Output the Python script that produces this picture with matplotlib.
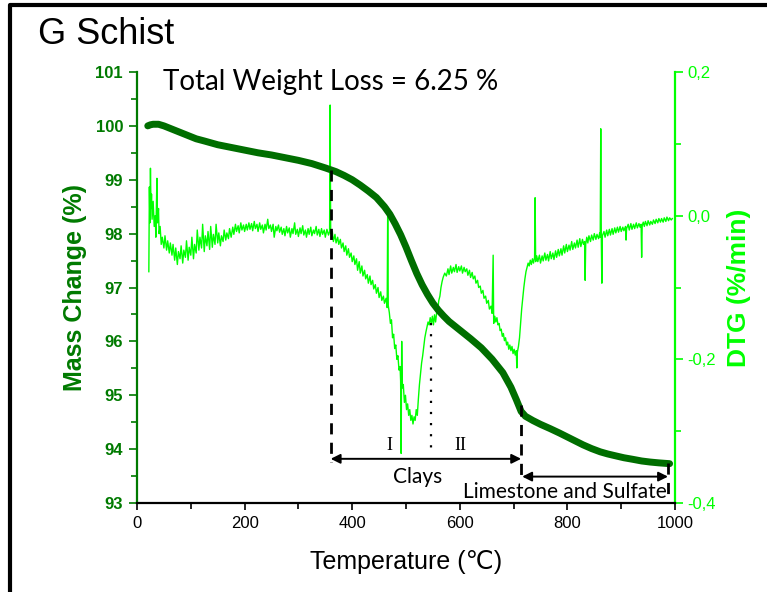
import matplotlib
matplotlib.use("Agg")
import matplotlib.pyplot as plt
from matplotlib.lines import Line2D
from matplotlib.ticker import MultipleLocator, FixedLocator, FuncFormatter

# ---------------- data ----------------
mass_temp = [20, 25, 30, 40, 50, 60, 75, 85, 100, 110, 125, 150, 175, 200, 225, 250, 275, 300,
             325, 350, 370, 385, 400, 415, 430, 445, 460, 470, 480, 490, 500, 510,
             520, 530, 540, 550, 560, 570, 580, 600, 620, 640, 660, 680, 695, 705,
             714, 722, 736, 750, 768, 785, 799, 815, 829, 845, 861, 875, 892, 905,
             922, 938, 954, 970, 990]
mass_val = [100.00, 100.02, 100.03, 100.03, 100.00, 99.96, 99.90, 99.86, 99.80, 99.76,
            99.72, 99.65, 99.60, 99.55, 99.50, 99.46, 99.41, 99.36, 99.30, 99.22,
            99.15, 99.08, 99.00, 98.90, 98.79, 98.67, 98.50, 98.36, 98.18, 97.98,
            97.75, 97.50, 97.26, 97.05, 96.87, 96.71, 96.58, 96.47, 96.37, 96.21,
            96.05, 95.88, 95.67, 95.42, 95.15, 94.92, 94.70, 94.61, 94.53, 94.46,
            94.38, 94.30, 94.23, 94.15, 94.08, 94.01, 93.95, 93.91, 93.87, 93.84,
            93.81, 93.78, 93.76, 93.745, 93.73]

dtg_temp = [22, 23, 24, 25, 26, 27, 28, 30, 32, 34, 35, 37, 38, 40, 41, 43, 45,
            47, 50, 52, 55, 57, 60, 62, 65, 67, 70, 72, 75, 77, 80, 82, 85, 87, 90, 92, 95, 97, 100, 102, 105, 107, 110,
            112, 115, 117, 120, 122, 125, 127, 130, 132, 135, 137, 140, 142, 145, 147, 150, 152, 155, 157, 160, 162, 165, 167, 170, 172, 175,
            178, 180, 183, 185, 188, 190, 193, 195, 198, 200, 203, 205, 208, 210, 213, 215, 218, 220, 223, 225, 228, 230, 233, 235, 238, 240, 243, 245, 248, 250, 253, 255, 258, 260, 263, 265,
            268, 270, 273, 275, 278, 280, 283, 285, 288, 290, 293, 295, 298, 300, 303, 305, 308, 310, 313, 315, 318, 320, 323, 325, 328, 330, 333, 335, 338, 340, 343, 345, 348, 350, 353, 356,
            358, 359, 360,
            363, 365, 368, 370, 373, 375, 378, 380, 383, 385, 388, 390, 393, 395, 398, 400, 403, 405, 408, 410, 413, 415, 418, 420, 423, 425, 428, 430, 433, 435, 438, 440, 443, 445, 448, 450, 453, 455,
            458, 460, 463, 465, 466, 467, 469,
            471, 473, 475, 477, 479, 481, 483, 485, 487, 489, 490, 491, 492, 493, 495, 497, 499, 501, 503, 505, 507, 509, 511, 513, 515, 517, 519, 521, 523, 525, 527, 529, 531, 533, 535, 537, 539, 541, 543, 545, 547, 549, 551, 553, 555, 557, 559, 561, 563, 565, 567, 569, 572, 575,
            578, 580, 583, 585, 588, 590, 593, 595, 598, 600, 603, 605, 608, 610, 613, 615, 618, 620, 623, 625, 628, 630, 633, 635, 638, 640, 643, 645, 648, 650, 653, 655, 658, 660, 662, 663, 665, 667, 669, 671, 673, 675, 677, 679, 681, 683, 685, 687, 689, 691, 693, 695, 697, 699, 701, 703, 705, 706, 707, 709, 711, 713, 715, 717, 719, 721, 723, 725, 727, 729, 731, 733, 735, 737, 739, 740, 741, 743,
            745, 748, 750, 753, 755, 758, 760, 763, 765, 768, 770, 773, 775, 778, 780, 783, 785, 788, 790, 793, 795, 798, 800, 803, 805, 808, 810, 813, 815, 818, 820, 823, 825, 828, 830, 832, 833, 834, 836, 838, 840, 843, 845, 848, 850, 853, 855, 858, 860, 861, 862, 863, 864, 865, 868, 870, 873, 875, 878, 880, 883, 885, 888, 890, 893, 895, 898, 900, 903, 905, 908, 909, 910, 913, 915, 918, 920, 923, 925, 928, 930, 933, 935, 937, 938, 939, 941, 943, 945, 948, 950, 953, 955, 958, 960, 963, 965, 968, 970, 973, 975, 978, 980, 983, 985, 988, 990, 993, 995]
dtg_val = [-0.078, 0.040, -0.010, 0.066, 0.010, 0.030, -0.005, 0.020, -0.015, 0.000, -0.030, 0.052, -0.010, 0.010, -0.025, -0.015, -0.040,
           -0.030, -0.045, -0.028, -0.048, -0.035, -0.052, -0.038, -0.055, -0.040, -0.062, -0.045, -0.068, -0.050, -0.060, -0.042, -0.066, -0.048, -0.058, -0.035, -0.062, -0.044, -0.055, -0.030, -0.060, -0.040, -0.052,
           -0.020, -0.048, -0.030, -0.045, -0.012, -0.050, -0.028, -0.042, -0.022, -0.047, -0.015, -0.044, -0.026, -0.040, -0.012, -0.038, -0.024, -0.042, -0.028, -0.036, -0.020, -0.034, -0.024, -0.032, -0.018, -0.030,
           -0.016, -0.026, -0.012, -0.022, -0.014, -0.024, -0.010, -0.020, -0.013, -0.022, -0.012, -0.020, -0.010, -0.019, -0.011, -0.021, -0.008, -0.018, -0.012, -0.022, -0.010, -0.019, -0.013, -0.024, -0.012, -0.020, -0.005, -0.018, -0.013, -0.022, -0.012, -0.030, -0.015, -0.021, -0.013, -0.023,
           -0.016, -0.026, -0.018, -0.028, -0.015, -0.024, -0.017, -0.030, -0.018, -0.025, -0.010, -0.026, -0.019, -0.029, -0.017, -0.025, -0.014, -0.027, -0.020, -0.030, -0.018, -0.026, -0.016, -0.028, -0.020, -0.025, -0.015, -0.027, -0.019, -0.029, -0.018, -0.026, -0.020, -0.030, -0.019, -0.027,
           -0.022, 0.154, -0.025,
           -0.022, -0.036, -0.026, -0.038, -0.030, -0.040, -0.033, -0.045, -0.038, -0.050, -0.042, -0.055, -0.046, -0.058, -0.052, -0.064, -0.056, -0.068, -0.060, -0.076, -0.064, -0.080, -0.070, -0.084, -0.076, -0.088, -0.082, -0.094, -0.084, -0.096, -0.090, -0.102, -0.096, -0.108, -0.100, -0.114, -0.106, -0.118,
           -0.112, -0.122, -0.115, -0.128, 0.012, -0.125, -0.135,
           -0.150, -0.145, -0.170, -0.165, -0.185, -0.180, -0.200, -0.195, -0.215, -0.210, -0.230, -0.331, -0.175, -0.240, -0.235, -0.260, -0.250, -0.270, -0.262, -0.278, -0.270, -0.285, -0.278, -0.290, -0.280, -0.285, -0.270, -0.278, -0.255, -0.235, -0.220, -0.205, -0.195, -0.182, -0.170, -0.162, -0.155, -0.148, -0.152, -0.142, -0.150, -0.140, -0.152, -0.138, -0.148, -0.135, -0.130, -0.118, -0.112, -0.100, -0.092, -0.086, -0.080, -0.084,
           -0.074, -0.082, -0.070, -0.080, -0.072, -0.078, -0.068, -0.079, -0.071, -0.077, -0.070, -0.080, -0.072, -0.078, -0.074, -0.083, -0.076, -0.086, -0.079, -0.088, -0.084, -0.094, -0.090, -0.100, -0.098, -0.108, -0.104, -0.115, -0.112, -0.122, -0.118, -0.130, -0.126, -0.136, -0.055, -0.150, -0.140, -0.148, -0.142, -0.152, -0.150, -0.160, -0.158, -0.168, -0.164, -0.174, -0.170, -0.180, -0.176, -0.186, -0.180, -0.188, -0.182, -0.192, -0.186, -0.194, -0.188, -0.212, -0.190, -0.182, -0.170, -0.150, -0.130, -0.115, -0.100, -0.088, -0.078, -0.072, -0.066, -0.070, -0.062, -0.068, -0.060, -0.066, -0.058, 0.025, -0.064, -0.056,
           -0.064, -0.055, -0.066, -0.056, -0.063, -0.052, -0.062, -0.054, -0.063, -0.050, -0.060, -0.052, -0.061, -0.049, -0.058, -0.047, -0.056, -0.046, -0.055, -0.042, -0.052, -0.040, -0.050, -0.041, -0.048, -0.036, -0.047, -0.038, -0.045, -0.034, -0.044, -0.032, -0.043, -0.033, -0.040, -0.036, -0.090, -0.040, -0.030, -0.038, -0.028, -0.036, -0.027, -0.034, -0.025, -0.033, -0.026, -0.032, -0.024, -0.030, 0.121, -0.030, -0.094, -0.028, -0.022, -0.030, -0.020, -0.028, -0.019, -0.027, -0.018, -0.026, -0.017, -0.024, -0.016, -0.023, -0.015, -0.022, -0.016, -0.021, -0.015, -0.034, -0.018, -0.012, -0.020, -0.011, -0.019, -0.012, -0.018, -0.010, -0.017, -0.011, -0.016, -0.012, -0.058, -0.014, -0.009, -0.015, -0.008, -0.014, -0.007, -0.013, -0.008, -0.012, -0.006, -0.011, -0.005, -0.010, -0.004, -0.009, -0.004, -0.009, -0.003, -0.008, -0.002, -0.007, -0.003, -0.006, -0.004]

x_ticks = [0, 200, 400, 600, 800, 1000]
mass_ticks = [93, 94, 95, 96, 97, 98, 99, 100, 101]
dtg_ticks = [-0.4, -0.2, 0.0, 0.2]

title_text = "G Schist"
loss_text = "Total Weight Loss = 6.25 %"
clay_start, stage_split, clay_end, lime_end = 360, 547, 714, 987

# ---------------- style ----------------
DARK = "#007A00"
CURVE = "#006E00"
LIME = "#00FF00"
SANS = ["Liberation Sans", "DejaVu Sans"]
CAL = ["Lato", "DejaVu Sans"]

fig = plt.figure(figsize=(7.67, 5.92), dpi=100)
ax = fig.add_axes([137/767, 1-503/592, (675-137)/767, (503-72)/592])
ax2 = ax.twinx()
ax.set_zorder(ax2.get_zorder() + 1)
ax.patch.set_visible(False)

# DTG
ax2.plot(dtg_temp, dtg_val, color=LIME, lw=1.0)
ax2.set_ylim(-0.4, 0.2)
ax2.yaxis.set_major_locator(FixedLocator(dtg_ticks))
ax2.yaxis.set_minor_locator(MultipleLocator(0.1))
ax2.yaxis.set_major_formatter(FuncFormatter(lambda v, p: f"{v:.1f}".replace(".", ",").replace("-0,0", "0,0")))
ax2.tick_params(axis='y', which='major', colors=LIME, length=6, width=1.2, labelsize=12, pad=3)
ax2.tick_params(axis='y', which='minor', colors=LIME, length=4, width=1.2)
for lab in ax2.get_yticklabels():
    lab.set_family(SANS)
ax2.spines['right'].set_color(LIME)
ax2.spines['right'].set_linewidth(1.6)
for s in ['top', 'left', 'bottom']:
    ax2.spines[s].set_visible(False)
ax2.set_ylabel("DTG (%/min)", color=LIME, fontsize=19, fontweight='bold', family=SANS, labelpad=8)

# Mass
ax.plot(mass_temp, mass_val, color=CURVE, lw=5, solid_capstyle='round', solid_joinstyle='round')
ax.set_xlim(0, 1000)
ax.set_ylim(93, 101)
ax.xaxis.set_major_locator(FixedLocator(x_ticks))
ax.xaxis.set_minor_locator(MultipleLocator(100))
ax.yaxis.set_major_locator(FixedLocator(mass_ticks))
ax.yaxis.set_minor_locator(MultipleLocator(0.5))
ax.tick_params(axis='y', which='major', colors=DARK, length=6, width=1.2, labelsize=12, pad=4)
ax.tick_params(axis='y', which='minor', colors=DARK, length=4, width=1.2)
ax.tick_params(axis='x', which='major', colors='black', length=5, width=1.2, labelsize=12, pad=4)
ax.tick_params(axis='x', which='minor', colors='black', length=4, width=1.2)
for lab in ax.get_yticklabels():
    lab.set_family(SANS)
    lab.set_fontweight('bold')
for lab in ax.get_xticklabels():
    lab.set_family(SANS)
ax.spines['left'].set_color(DARK)
ax.spines['left'].set_linewidth(1.6)
ax.spines['bottom'].set_color('black')
ax.spines['bottom'].set_linewidth(1.6)
for s in ['top', 'right']:
    ax.spines[s].set_visible(False)
ax.set_xlabel("Temperature (\u2103)", fontsize=18, family=SANS, labelpad=14)
ax.set_ylabel("Mass Change (%)", color=DARK, fontsize=18, fontweight='bold', family=SANS, labelpad=6)

# annotations
ax.plot([clay_start, clay_start], [99.18, 93.76], color='black', lw=2, ls=(0, (4, 3)))
ax.plot([stage_split, stage_split], [96.35, 94.02], color='black', lw=1.6, ls=(0, (1, 4)))
ax.plot([clay_end, clay_end], [94.82, 93.49], color='black', lw=2, ls=(0, (4, 3)))
ax.plot([lime_end, lime_end], [93.75, 93.06], color='black', lw=2, ls=(0, (4, 3)))
arrow_kw = dict(arrowstyle='<|-|>', color='black', lw=1.4, mutation_scale=14, shrinkA=0, shrinkB=0)
ax.annotate("", xy=(clay_start, 93.82), xytext=(clay_end, 93.82), arrowprops=arrow_kw)
ax.annotate("", xy=(clay_end + 2, 93.49), xytext=(lime_end, 93.49), arrowprops=arrow_kw)
ax.text(470, 94.06, "I", family=["Liberation Serif"], fontsize=13, ha='center', va='center')
ax.text(602, 94.06, "II", family=["Liberation Serif"], fontsize=13, ha='center', va='center')
ax.text(522, 93.49, "Clays", family=CAL, fontsize=15, ha='center', va='center')
ax.text(795, 93.2, "Limestone and Sulfate", family=CAL, fontsize=15, ha='center', va='center')
ax.text(48, 100.81, loss_text, family=CAL, fontsize=20, ha='left', va='center')

fig.text(38/767, 1-35/592, title_text, family=SANS, fontsize=26, ha='left', va='center')

# outer frame (left and top edges)
fig.add_artist(Line2D([10/767, 10/767, 1.0], [0.0, 1-5/592, 1-5/592],
                      transform=fig.transFigure, color='black', lw=3))

fig.savefig("out.png", dpi=100)
